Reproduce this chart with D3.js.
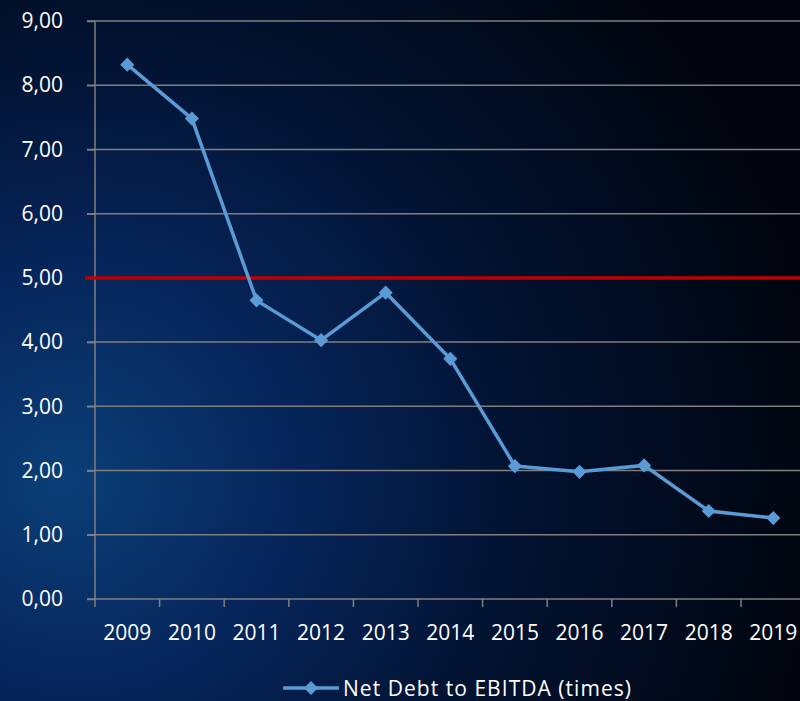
<!DOCTYPE html>
<html>
<head>
<meta charset="utf-8">
<script src="https://cdn.jsdelivr.net/npm/d3@7"></script>
<style>
  html, body { margin: 0; padding: 0; background: #000; }
  svg { display: block; font-family: "Open Sans", Lato, sans-serif; }
</style>
</head>
<body>
<svg id="chart" width="800" height="701"></svg>
<script>
// chart data
var years = ["2009", "2010", "2011", "2012", "2013", "2014", "2015", "2016", "2017", "2018", "2019"];
var netDebtToEbitda = [8.32, 7.48, 4.65, 4.03, 4.77, 3.74, 2.07, 1.98, 2.08, 1.37, 1.26];
var yTicks = [0, 1, 2, 3, 4, 5, 6, 7, 8, 9];
var limitValue = 5;
var seriesName = "Net Debt to EBITDA (times)";

var w = 800, h = 701;
var margin = { top: 21, left: 95, bottom: 102 };
var bandWidth = 64.6;

var svg = d3.select("#chart");

// background glow
var defs = svg.append("defs");
var grad = defs.append("radialGradient")
    .attr("id", "bg")
    .attr("gradientUnits", "userSpaceOnUse")
    .attr("cx", 120).attr("cy", 470).attr("r", 720)
    .attr("fx", 60).attr("fy", 480);
grad.append("stop").attr("offset", "0").attr("stop-color", "#0b3f78");
grad.append("stop").attr("offset", "0.3").attr("stop-color", "#06255a");
grad.append("stop").attr("offset", "0.6").attr("stop-color", "#021230");
grad.append("stop").attr("offset", "1").attr("stop-color", "#00040c");
svg.append("rect").attr("width", w).attr("height", h).attr("fill", "url(#bg)");

var x = d3.scaleBand()
    .domain(years)
    .range([margin.left, margin.left + bandWidth * years.length]);
var y = d3.scaleLinear()
    .domain([0, 9])
    .range([h - margin.bottom, margin.top]);

// grid lines
svg.append("g")
    .selectAll("line")
    .data(yTicks.slice(1))
    .enter()
    .append("line")
    .attr("x1", margin.left - 8)
    .attr("x2", w)
    .attr("y1", function(d) { return y(d); })
    .attr("y2", function(d) { return y(d); })
    .attr("stroke", "#7f7f7f")
    .attr("stroke-width", 1.5);

// y axis
var yAxis = svg.append("g")
    .attr("transform", "translate(" + margin.left + ",0)")
    .call(d3.axisLeft(y).tickValues(yTicks).tickSize(8).tickPadding(24)
        .tickFormat(function(d) { return d3.format(".2f")(d).replace(".", ","); }));

// x axis
var xAxis = svg.append("g")
    .attr("transform", "translate(0," + y(0) + ")")
    .call(d3.axisBottom(x).tickSize(0).tickPadding(26));
xAxis.append("g")
    .selectAll("line")
    .data(d3.range(years.length + 1))
    .enter()
    .append("line")
    .attr("x1", function(i) { return margin.left + i * bandWidth; })
    .attr("x2", function(i) { return margin.left + i * bandWidth; })
    .attr("y1", 0).attr("y2", 8)
    .attr("stroke", "#7f7f7f").attr("stroke-width", 1.5);

[yAxis, xAxis].forEach(function(a) {
    a.attr("font-family", null).attr("font-size", null);
    a.select(".domain").attr("stroke", "#7f7f7f").attr("stroke-width", 1.5);
    a.selectAll(".tick line").attr("stroke", "#7f7f7f").attr("stroke-width", 1.5);
    a.selectAll(".tick text").attr("fill", "#fff").style("font-size", "21px");
});
yAxis.select(".domain").attr("d", "M0," + y(0) + "V" + y(9));
xAxis.select(".domain").attr("d", "M" + (margin.left - 8) + ",0H" + w);

// limit line
svg.append("line")
    .attr("x1", margin.left - 10).attr("x2", w)
    .attr("y1", y(limitValue)).attr("y2", y(limitValue))
    .attr("stroke", "#c00000").attr("stroke-width", 3.5);

// series line
var cx = function(d, i) { return x(years[i]) + x.bandwidth() / 2; };
var line = d3.line()
    .x(cx)
    .y(function(d) { return y(d); });

svg.append("path")
    .datum(netDebtToEbitda)
    .attr("d", line)
    .attr("fill", "none")
    .attr("stroke", "#5b9bd5")
    .attr("stroke-width", 3.5);

var diamond = d3.symbol().type(d3.symbolSquare).size(100);
svg.append("g")
    .selectAll("path")
    .data(netDebtToEbitda)
    .enter()
    .append("path")
    .attr("d", diamond)
    .attr("fill", "#5b9bd5")
    .attr("transform", function(d, i) {
        return "translate(" + cx(d, i) + "," + y(d) + ") rotate(45)";
    });

// legend
var legend = svg.append("g").attr("transform", "translate(283,688)");
legend.append("line")
    .attr("x1", 0).attr("x2", 56)
    .attr("stroke", "#5b9bd5").attr("stroke-width", 3.5);
legend.append("path")
    .attr("d", diamond)
    .attr("fill", "#5b9bd5")
    .attr("transform", "translate(28,0) rotate(45)");
legend.append("text")
    .attr("x", 60).attr("y", 8)
    .attr("fill", "#fff")
    .style("font-size", "21px")
    .attr("textLength", 288)
    .text(seriesName);
</script>
</body>
</html>
